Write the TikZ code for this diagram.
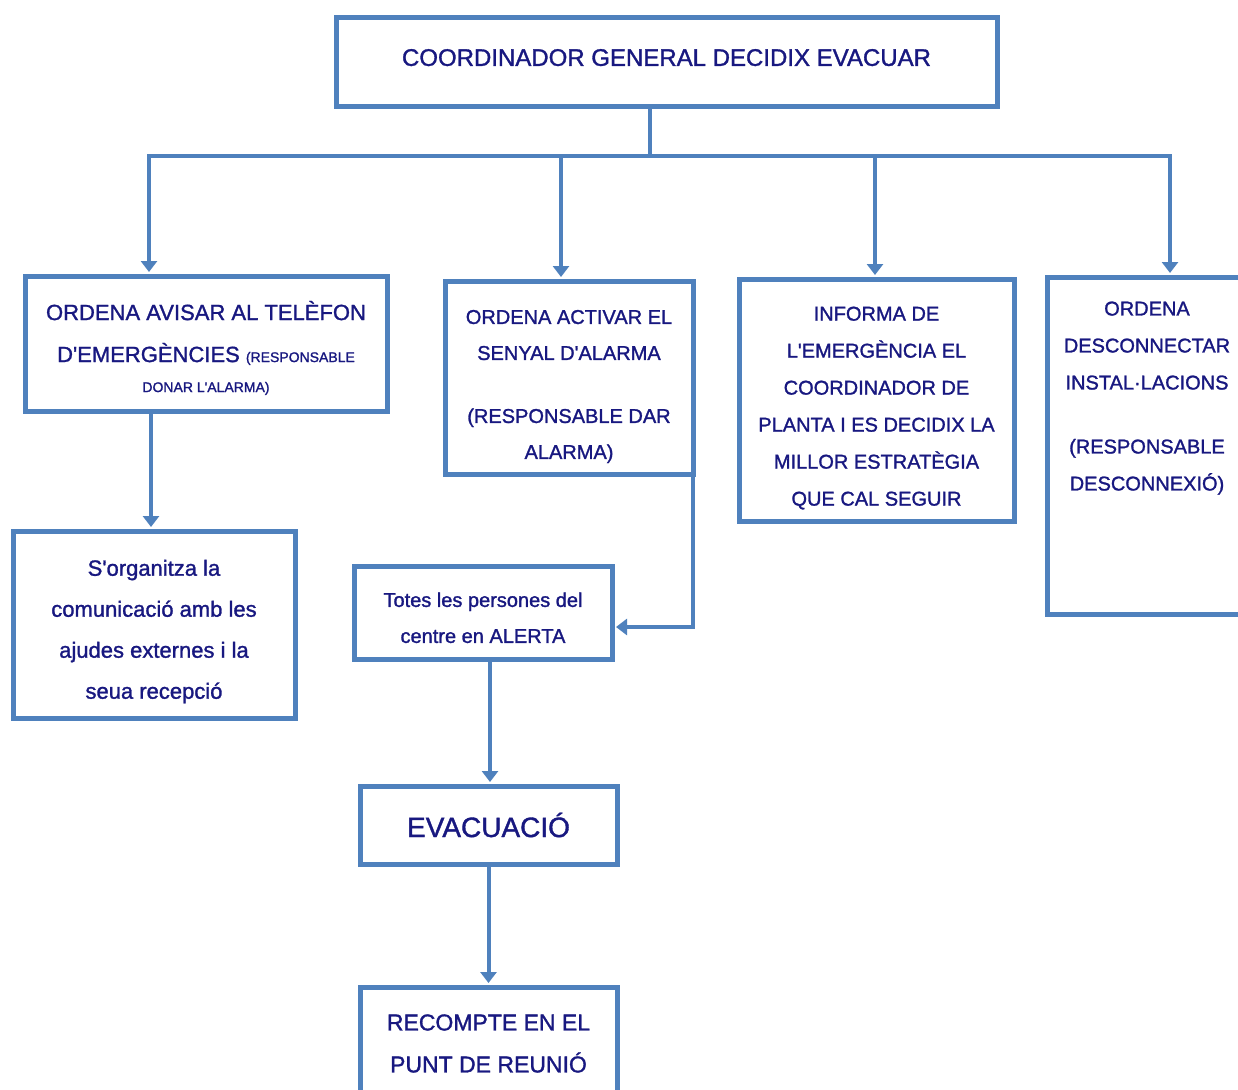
\documentclass[tikz,border=0pt]{standalone}
\usepackage{fontspec}
\setmainfont{Liberation Sans}[Ligatures=TeXOff,FakeBold=1.3]
\usetikzlibrary{arrows.meta}
\definecolor{bordc}{RGB}{79,129,189}
\definecolor{txtc}{RGB}{24,24,128}
\begin{document}
\begin{tikzpicture}[x=1pt,y=-1pt,
  box/.style={draw=bordc, line width=5pt, rectangle, inner sep=0pt, align=center, text=txtc, fill=white},
  conn/.style={draw=bordc, line width=4pt},
  arr/.style={conn, -{Triangle[width=16pt,length=11pt]}, shorten >=1.5pt}]
\useasboundingbox (0,0) rectangle (1238,1089);
\clip (0,0) rectangle (1238,1089);
\fill[white] (0,0) rectangle (1238,1089);

\node[box, minimum width=661pt, minimum height=89pt, text depth=10pt, font=\fontsize{24}{28}\selectfont] (top) at (666.5,62.5) {COORDINADOR GENERAL DECIDIX EVACUAR};

\node[box, minimum width=362pt, minimum height=135pt, font=\fontsize{22}{42}\selectfont] (b1) at (206,343.5)
  {\mbox{}\\[-14pt]ORDENA AVISAR AL TELÈFON\\ D'EMERGÈNCIES {\fontsize{14}{42}\selectfont (RESPONSABLE}\\[-12pt] {\fontsize{14}{42}\selectfont DONAR L'ALARMA)}};

\node[box, minimum width=248pt, minimum height=193pt, font=\fontsize{20}{36}\selectfont] (b2) at (569,377.5)
  {\mbox{}\\[-4pt]ORDENA ACTIVAR EL\\SENYAL D'ALARMA\\[27pt](RESPONSABLE DAR\\ALARMA)};

\node[box, minimum width=275pt, minimum height=242pt, font=\fontsize{20}{37}\selectfont] (b3) at (876.5,400)
  {\mbox{}\\[-7pt]INFORMA DE\\L'EMERGÈNCIA EL\\COORDINADOR DE\\PLANTA I ES DECIDIX LA\\MILLOR ESTRATÈGIA\\QUE CAL SEGUIR};

\node[box, minimum width=200pt, minimum height=337pt, font=\fontsize{20}{37}\selectfont] (b4) at (1147,445.5)
  {ORDENA\\DESCONNECTAR\\INSTAL·LACIONS\\[27pt](RESPONSABLE\\DESCONNEXIÓ)\\[62pt]\mbox{}};

\node[box, minimum width=282pt, minimum height=187pt, font=\fontsize{22}{41}\selectfont] (b5) at (154,624.5)
  {\mbox{}\\[-11pt]S'organitza la\\comunicació amb les\\ajudes externes i la\\seua recepció};

\node[box, minimum width=258pt, minimum height=93pt, font=\fontsize{20}{36}\selectfont] (b6) at (483,612.5)
  {\mbox{}\\[-11pt]Totes les persones del\\centre en ALERTA};

\node[box, minimum width=257pt, minimum height=78pt, font=\fontsize{28}{32}\selectfont] (b7) at (488.5,825)
  {EVACUACIÓ};

\node[box, minimum width=257pt, minimum height=113pt, font=\fontsize{23}{42}\selectfont] (b8) at (488.5,1043.5)
  {RECOMPTE EN EL\\PUNT DE REUNIÓ};

\coordinate (j) at (650,156);
\coordinate (bl) at (149,156);
\coordinate (br) at (1170,156);
\coordinate (c2) at (561,156);
\coordinate (c3) at (875,156);
\coordinate (d1) at (151,411);
\coordinate (k) at (692.5,627);
\coordinate (d6) at (490,659);

\draw[conn] (top.south -| j) -- (j);
\draw[arr] (j) -| (b1.north -| bl);
\draw[arr] (j) -| (b4.north -| br);
\draw[arr] (c2) -- (c2 |- b2.north);
\draw[arr] (c3) -- (c3 |- b3.north);
\draw[arr] (b1.south -| d1) -- (b5.north -| d1);
\draw[arr] (b2.south east -| k) -- (k) -- (k -| b6.east);
\draw[arr] (b6.south -| d6) -- (b7.north -| d6);
\draw[arr] (b7.south) -- (b8.north);
\end{tikzpicture}
\end{document}
